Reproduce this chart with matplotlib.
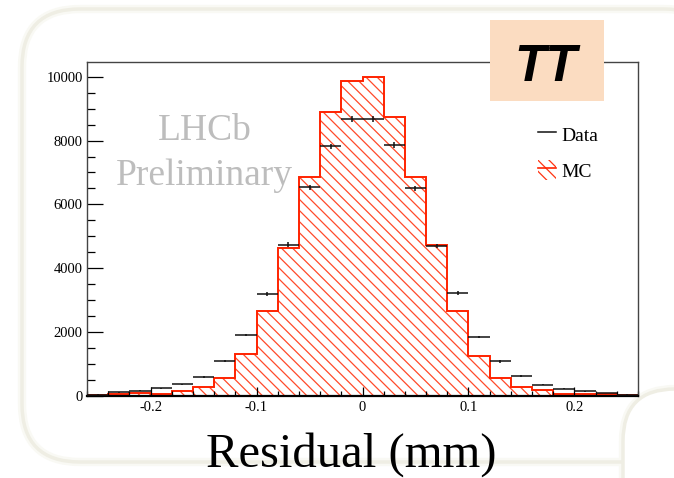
import numpy as np
import matplotlib
matplotlib.use("Agg")
import matplotlib.pyplot as plt
from matplotlib.patches import FancyBboxPatch, Rectangle, Patch
from matplotlib.lines import Line2D
from matplotlib.ticker import MultipleLocator, FuncFormatter

plt.rcParams['font.family'] = ['Liberation Serif', 'DejaVu Serif']
plt.rcParams['axes.unicode_minus'] = False
plt.rcParams['hatch.linewidth'] = 0.9

# TT residuals, 0.02 mm bins from -0.26 to 0.26
edges = np.linspace(-0.26, 0.26, 27)
data_counts = [30, 100, 150, 225, 350, 590, 1085, 1900, 3180, 4740,
               6540, 7820, 8680, 8680, 7860, 6510, 4700, 3220, 1840, 1070,
               610, 340, 220, 135, 80, 30]
mc_counts = [10, 60, 70, 60, 140, 280, 540, 1300, 2655, 4630,
             6870, 8900, 9860, 10000, 8740, 6870, 4730, 2650, 1230, 560,
             260, 170, 60, 40, 50, 10]
legend_labels = ['Data', 'MC']

W, H = 674, 478
fig = plt.figure(figsize=(W / 100, H / 100), dpi=100)

# slide background (pixel coords)
bg = fig.add_axes([0, 0, 1, 1], zorder=0)
bg.set_xlim(0, W)
bg.set_ylim(H, 0)
bg.axis('off')
for lw, col in [(6, '#f9f9f4'), (2.5, '#efeee4')]:
    bg.add_patch(FancyBboxPatch((22, 9), 700, 453, boxstyle='round,pad=0,rounding_size=58',
                                facecolor='none', edgecolor=col, linewidth=lw))
    bg.add_patch(FancyBboxPatch((623, 389), 120, 150, boxstyle='round,pad=0,rounding_size=52',
                                facecolor='white' if lw < 3 else 'none', edgecolor=col, linewidth=lw))
bg.text(204.5, 140, 'LHCb', ha='center', va='baseline', fontsize=27, color='#bdbdbd')
bg.text(204.5, 185, 'Preliminary', ha='center', va='baseline', fontsize=27, color='#bdbdbd')

# histogram pad
ax = fig.add_axes([87 / W, (H - 395.6) / H, 551 / W, 333.1 / H], zorder=1)
ax.set_facecolor('none')

ax.stairs(mc_counts, edges, fill=True, facecolor='none', edgecolor='#ff4a2a',
          linewidth=0, hatch='\\\\\\')
ax.stairs(mc_counts, edges, color='#ff2200', linewidth=1.4)

centers = 0.5 * (edges[:-1] + edges[1:])
half_w = np.diff(edges) / 2
ax.errorbar(centers, data_counts, xerr=half_w, yerr=np.sqrt(data_counts), fmt='none',
            ecolor='#111111', elinewidth=1.1, capsize=0, zorder=3)

ax.set_xlim(-0.26, 0.26)
ax.set_ylim(0, 10450)

ax.xaxis.set_major_locator(MultipleLocator(0.1))
ax.xaxis.set_minor_locator(MultipleLocator(0.02))
ax.yaxis.set_major_locator(MultipleLocator(2000))
ax.yaxis.set_minor_locator(MultipleLocator(500))
ax.xaxis.set_major_formatter(FuncFormatter(lambda v, p: '%g' % (round(v, 3) + 0.0)))
ax.xaxis.tick_bottom()
ax.yaxis.tick_left()
ax.tick_params(axis='y', which='major', direction='in', length=11.5, width=0.9, labelsize=10.5, pad=3)
ax.tick_params(axis='y', which='minor', direction='in', length=5.8, width=0.9)
ax.tick_params(axis='x', which='major', direction='in', length=6.5, width=0.9, labelsize=10.5, pad=4)
ax.tick_params(axis='x', which='minor', direction='in', length=3.6, width=0.9)

for side in ['top', 'right', 'left']:
    ax.spines[side].set_color('#444444')
    ax.spines[side].set_linewidth(1.0)
ax.spines['bottom'].set_color('black')
ax.spines['bottom'].set_linewidth(1.6)

handles = [Line2D([], [], color='#111111', lw=1.1),
           (Patch(facecolor='none', edgecolor='#ff3311', hatch='\\\\\\', lw=0),
            Line2D([], [], color='#ff2200', lw=1.2))]
ax.legend(handles, legend_labels, loc='upper left', bbox_to_anchor=(538 / W, (H - 124) / H),
          bbox_transform=fig.transFigure, frameon=False, fontsize=14, handlelength=0.95,
          handletextpad=0.25, labelspacing=0.8, handleheight=1.2, borderpad=0, borderaxespad=0)

# slide annotations on top
top = fig.add_axes([0, 0, 1, 1], zorder=2)
top.set_xlim(0, W)
top.set_ylim(H, 0)
top.axis('off')
top.add_patch(Rectangle((490, 20), 114, 81, facecolor='#fbdcc1', edgecolor='none'))
top.text(545.5, 80.5, 'TT', ha='center', va='baseline', fontsize=37, fontweight='bold',
         fontstyle='italic', family='Liberation Sans', color='black')
top.text(351, 467, 'Residual (mm)', ha='center', va='baseline', fontsize=35, color='black')

fig.savefig('out.png', dpi=100)
